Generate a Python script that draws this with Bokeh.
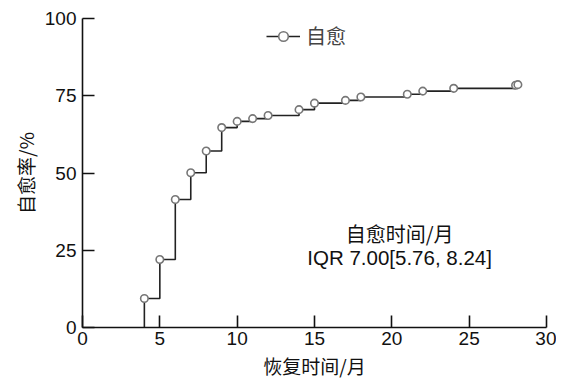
from bokeh.plotting import figure
from bokeh.models import Range1d, Label, Legend, LegendItem
from bokeh.embed import file_html
from bokeh.resources import INLINE

# Data
months = [4, 5, 6, 7, 8, 9, 10, 11, 12, 14, 15, 17, 18, 21, 22, 24, 28, 28.15]
healed_pct = [9.4, 22.0, 41.4, 50.1, 57.1, 64.7, 66.7, 67.6, 68.6, 70.5, 72.6,
              73.5, 74.6, 75.5, 76.5, 77.4, 78.4, 78.6]
x_ticks = [0, 5, 10, 15, 20, 25, 30]
y_ticks = [0, 25, 50, 75, 100]
series_name = "自愈"
annot_line1 = "自愈时间/月"
annot_line2 = "IQR 7.00[5.76, 8.24]"

CJK = "Noto Sans CJK SC"
LAT = "Liberation Sans"

p = figure(frame_width=464, frame_height=309,
           output_backend="svg", toolbar_location=None,
           x_range=Range1d(0, 30), y_range=Range1d(0, 100),
           min_border_left=82, min_border_right=10, min_border_top=18,
           min_border_bottom=50)
p.outline_line_color = None
p.xgrid.visible = False
p.ygrid.visible = False

step_x = [months[0]] + months
step_y = [0] + healed_pct
st = p.step(step_x, step_y, mode="after", line_color="#222222", line_width=1.6)
sc = p.scatter(months, healed_pct, size=7.5, marker="circle", fill_color="white",
               line_color="#777777", line_width=1.6)

for ax in (p.xaxis[0], p.yaxis[0]):
    ax.axis_line_color = "#111111"
    ax.axis_line_width = 1.6
    ax.major_tick_line_color = "#111111"
    ax.major_tick_line_width = 1.6
    ax.major_tick_in = 12
    ax.major_tick_out = 0
    ax.minor_tick_line_color = None
    ax.major_label_text_font = LAT
    ax.major_label_text_font_size = "19px"
    ax.major_label_text_color = "#111111"
    ax.axis_label_text_font = CJK
    ax.axis_label_text_font_size = "19px"
    ax.axis_label_text_font_style = "normal"
    ax.axis_label_text_color = "#111111"

p.xaxis.ticker = x_ticks
p.yaxis.ticker = y_ticks
p.xaxis.axis_label = "恢复时间/月"
p.yaxis.axis_label = "自愈率/%"
p.xaxis.major_label_standoff = 4
p.yaxis.major_label_standoff = 6
p.xaxis.axis_label_standoff = 4
p.yaxis.axis_label_standoff = 3

legend = Legend(items=[LegendItem(label=series_name, renderers=[st, sc])],
                location=(184, 277), glyph_width=34, glyph_height=24,
                label_height=24,
                label_text_font=CJK, label_text_font_size="20px",
                label_standoff=6, border_line_color=None,
                background_fill_alpha=0, padding=0, margin=0)
p.add_layout(legend, "center")

p.add_layout(Label(x=20.5, y=30.5, text=annot_line1, text_font=CJK,
                   text_font_size="20px", text_align="center",
                   text_baseline="middle", text_color="#111111"))
p.add_layout(Label(x=20.5, y=22.6, text=annot_line2, text_font=LAT,
                   text_font_size="20.5px", text_align="center",
                   text_baseline="middle", text_color="#111111"))

open("out.html", "w").write(file_html(p, INLINE))
